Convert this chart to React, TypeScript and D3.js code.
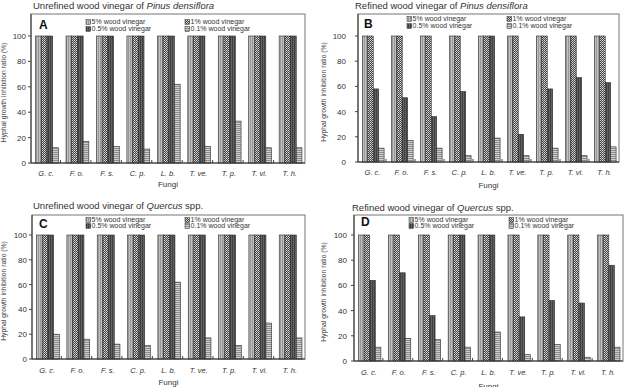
import React from "react";
import * as d3 from "d3";

// fungal species on the x axis
const fungi = ["G. c.", "F. o.", "F. s.", "C. p.", "L. b.", "T. ve.", "T. p.", "T. vi.", "T. h."];
const concentrations = ["5% wood vinegar", "1% wood vinegar", "0.5% wood vinegar", "0.1% wood vinegar"];
const yTicks = [0, 20, 40, 60, 80, 100];

// inhibition ratio (%), one row per concentration: 5%, 1%, 0.5%, 0.1%
const unrefinedPinus = [
  [100, 100, 100, 100, 100, 100, 100, 100, 100],
  [100, 100, 100, 100, 100, 100, 100, 100, 100],
  [100, 100, 100, 100, 100, 100, 100, 100, 100],
  [12, 17, 13, 11, 62, 13, 33, 12, 12],
];
const refinedPinus = [
  [100, 100, 100, 100, 100, 100, 100, 100, 100],
  [100, 100, 100, 100, 100, 100, 100, 100, 100],
  [58, 51, 36, 56, 100, 22, 58, 67, 63],
  [11, 17, 11, 5, 19, 5, 11, 5, 12],
];
const unrefinedQuercus = [
  [100, 100, 100, 100, 100, 100, 100, 100, 100],
  [100, 100, 100, 100, 100, 100, 100, 100, 100],
  [100, 100, 100, 100, 100, 100, 100, 100, 100],
  [20, 16, 12, 11, 62, 17, 11, 29, 17],
];
const refinedQuercus = [
  [100, 100, 100, 100, 100, 100, 100, 100, 100],
  [100, 100, 100, 100, 100, 100, 100, 100, 100],
  [64, 70, 36, 100, 100, 35, 48, 46, 76],
  [11, 18, 17, 11, 23, 5, 13, 3, 11],
];

const fills = ["url(#p5)", "url(#p1)", "url(#p05)", "url(#p01)"];
const FONT = "'Liberation Sans', Arial, sans-serif";
const INK = "#333";

type PanelProps = {
  data: number[][];
  title: string;
  species: string;
  suffix?: string;
  letter: string;
  left: number;
  right: number;
  top: number;
  y0: number;
  y100: number;
  titleX: number;
  titleY: number;
  letterX: number;
  letterY: number;
  legX: [number, number];
  legY: [number, number];
  tickX: number;
  yTitleX: number;
  xLabelY: number;
  fungiY: number;
};

function Panel(p: PanelProps) {
  const x = d3.scaleBand<string>().domain(fungi).range([p.left, p.right]);
  const inner = d3
    .scaleBand<string>()
    .domain(concentrations)
    .range([0, x.bandwidth()])
    .paddingOuter(0.67)
    .align(0.6);
  const y = d3.scaleLinear().domain([0, 100]).range([p.y0, p.y100]);
  const midY = (p.top + p.y0) / 2 + 4;

  return (
    <g fontFamily={FONT} fill={INK}>
      <text x={p.titleX} y={p.titleY} fontSize={9.5}>
        {p.title}
        <tspan fontStyle="italic">{p.species}</tspan>
        {p.suffix}
      </text>
      <rect x={p.left} y={p.top} width={p.right - p.left} height={p.y0 - p.top} fill="#fff" stroke="#777" strokeWidth={1} />

      {p.data.map((vals, si) =>
        vals.map((v, fi) => (
          <rect
            key={`${si}-${fi}`}
            x={x(fungi[fi])! + inner(concentrations[si])!}
            y={y(v)}
            width={inner.bandwidth()}
            height={p.y0 - y(v)}
            fill={fills[si]}
            stroke="#2a2a2a"
            strokeWidth={0.6}
          />
        ))
      )}

      {/* category separators on the baseline */}
      {fungi.slice(1).map((f) => (
        <line key={f} x1={x(f)! - 1} x2={x(f)! - 1} y1={p.y0} y2={p.y0 - 3} stroke="#444" strokeWidth={1} />
      ))}
      <line x1={p.left} x2={p.right} y1={p.y0} y2={p.y0} stroke="#333" strokeWidth={1} />
      <line x1={p.left} x2={p.left} y1={p.top} y2={p.y0} stroke="#333" strokeWidth={1} />

      {yTicks.map((t) => (
        <g key={t}>
          <line x1={p.left - 3} x2={p.left} y1={y(t)} y2={y(t)} stroke="#444" />
          <text x={p.tickX} y={y(t) + 3} fontSize={8} textAnchor="end">
            {t}
          </text>
        </g>
      ))}

      <text
        transform={`translate(${p.yTitleX},${midY}) rotate(-90)`}
        fontSize={6.8}
        textAnchor="middle"
      >
        Hyphal growth inhibition ratio (%)
      </text>

      {fungi.map((f) => (
        <text key={f} x={x(f)! + x.bandwidth() / 2} y={p.xLabelY} fontSize={7.5} fontStyle="italic" textAnchor="middle">
          {f}
        </text>
      ))}
      <text x={(p.left + p.right) / 2} y={p.fungiY} fontSize={8} textAnchor="middle">
        Fungi
      </text>

      <text x={p.letterX} y={p.letterY} fontSize={12} fontWeight="bold" fill="#111">
        {p.letter}
      </text>

      {concentrations.map((c, i) => {
        const lx = p.legX[i % 2];
        const ly = p.legY[Math.floor(i / 2)];
        return (
          <g key={c}>
            <rect x={lx} y={ly - 2.3} width={4.6} height={4.6} fill={fills[i]} stroke="#222" strokeWidth={0.5} />
            <text x={lx + 5.6} y={ly + 2.4} fontSize={7}>
              {c}
            </text>
          </g>
        );
      })}
    </g>
  );
}

export default function App() {
  return (
    <svg width={625} height={387} style={{ position: "absolute", left: 0, top: 0, background: "#fff" }}>
      <defs>
        <pattern id="p5" width={2} height={2} patternUnits="userSpaceOnUse">
          <rect width={2} height={2} fill="#c0c0c0" />
          <rect width={1} height={2} fill="#989898" />
        </pattern>
        <pattern id="p1" width={2} height={2} patternUnits="userSpaceOnUse">
          <rect width={2} height={2} fill="#444" />
          <rect width={1} height={1} fill="#e0e0e0" />
          <rect x={1} y={1} width={1} height={1} fill="#b8b8b8" />
        </pattern>
        <pattern id="p05" width={2} height={2} patternUnits="userSpaceOnUse">
          <rect width={2} height={2} fill="#626262" />
          <rect width={1} height={2} fill="#404040" />
        </pattern>
        <pattern id="p01" width={2} height={2} patternUnits="userSpaceOnUse">
          <rect width={2} height={2} fill="#cfcfcf" />
          <rect width={2} height={1} fill="#8c8c8c" />
        </pattern>
      </defs>

      <Panel
        data={unrefinedPinus}
        title="Unrefined wood vinegar of "
        species="Pinus densiflora"
        letter="A"
        left={31}
        right={305}
        top={14}
        y0={163}
        y100={36}
        titleX={33}
        titleY={9}
        letterX={39}
        letterY={29}
        legX={[86, 185]}
        legY={[22, 29]}
        tickX={26}
        yTitleX={6}
        xLabelY={176}
        fungiY={187}
      />
      <Panel
        data={refinedPinus}
        title="Refined wood vinegar of "
        species="Pinus densiflora"
        letter="B"
        left={358}
        right={619}
        top={14}
        y0={162}
        y100={36}
        titleX={355}
        titleY={9}
        letterX={364}
        letterY={28}
        legX={[407, 507]}
        legY={[19, 26]}
        tickX={346}
        yTitleX={326}
        xLabelY={175}
        fungiY={188}
      />
      <Panel
        data={unrefinedQuercus}
        title="Unrefined wood vinegar of "
        species="Quercus"
        suffix=" spp."
        letter="C"
        left={32}
        right={305}
        top={215}
        y0={359}
        y100={235}
        titleX={33}
        titleY={209}
        letterX={39}
        letterY={228}
        legX={[86, 185]}
        legY={[220, 226]}
        tickX={27}
        yTitleX={6}
        xLabelY={373}
        fungiY={385}
      />
      <Panel
        data={refinedQuercus}
        title="Refined wood vinegar of "
        species="Quercus"
        suffix=" spp."
        letter="D"
        left={354}
        right={623}
        top={215}
        y0={361}
        y100={235}
        titleX={352}
        titleY={211}
        letterX={361}
        letterY={226}
        legX={[409, 509]}
        legY={[220, 226]}
        tickX={347}
        yTitleX={326}
        xLabelY={375}
        fungiY={389}
      />
    </svg>
  );
}
